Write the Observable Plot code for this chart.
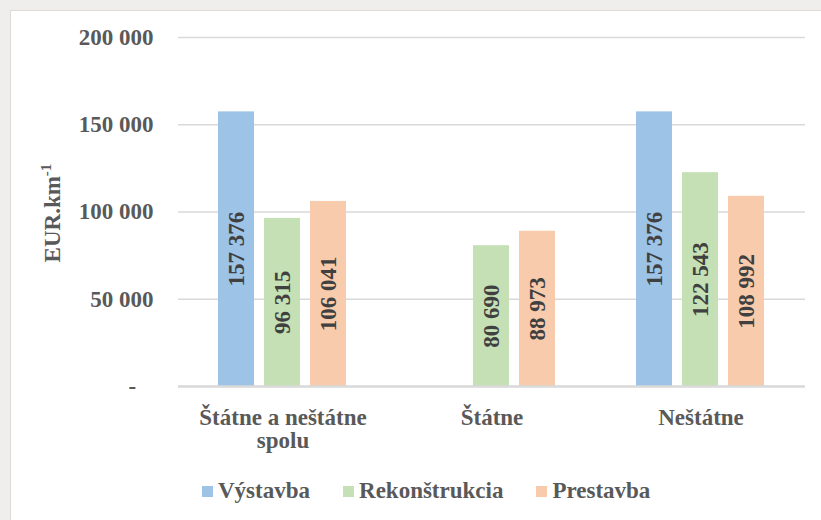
<!DOCTYPE html>
<html>
<head>
<meta charset="utf-8">
<script src="https://cdn.jsdelivr.net/npm/d3@7"></script>
<script src="https://cdn.jsdelivr.net/npm/@observablehq/plot@0.6"></script>
<style>
  html, body { margin: 0; padding: 0; }
  body { width: 821px; height: 520px; background: #efeeec; position: relative; overflow: hidden;
         font-family: 'Liberation Serif', 'Times New Roman', serif; }
  #panel { position: absolute; left: 10px; top: 10px; width: 811px; height: 510px; background: #fff;
           border-top: 1.5px solid #dddcd9; border-left: 1.5px solid #dddcd9; box-sizing: border-box; }
  #chart { position: absolute; left: 0; top: 0; }
  #legend { position: absolute; left: 202px; top: 478px; display: flex; align-items: center;
            font-size: 23px; font-weight: bold; color: #595959; white-space: nowrap; }
  #legend .item { display: flex; align-items: center; margin-right: 33px; }
  #legend .sw { width: 11px; height: 11px; margin-right: 5px; }
</style>
</head>
<body>
<div id="panel"></div>
<div id="chart"></div>
<div id="legend"></div>
<script>
const groups = ["Štátne a neštátne\nspolu", "Štátne", "Neštátne"];
const series = ["Výstavba", "Rekonštrukcia", "Prestavba"];
const vystavba = [157376, null, 157376];
const rekonstrukcia = [96315, 80690, 122543];
const prestavba = [106041, 88973, 108992];
const yTicks = [0, 50000, 100000, 150000, 200000];
const colors = ["#9dc3e6", "#c5e0b4", "#f8cbad"];

const seriesValues = [vystavba, rekonstrukcia, prestavba];
const rows = [];
groups.forEach((g, i) => {
  series.forEach((s, j) => {
    const v = seriesValues[j][i];
    if (v != null) rows.push({group: g, series: s, value: v});
  });
});

const fmt = d => d3.format(",")(d).replace(/,/g, " ");
const fmtTick = d => d === 0 ? "-\u00A0\u00A0\u00A0" : fmt(d);

const FONT = "'Liberation Serif', 'Times New Roman', serif";

const svg = Plot.plot({
  width: 821,
  height: 470,
  marginTop: 37,
  marginBottom: 84,
  marginLeft: 177,
  marginRight: 15,
  style: {fontFamily: FONT, background: "transparent", overflow: "visible"},
  fx: {domain: groups, padding: 0, axis: null},
  x: {domain: series, paddingInner: 0.215, paddingOuter: 0.862, axis: null},
  y: {domain: [0, 200000], axis: null},
  color: {domain: series, range: colors},
  marks: [
    Plot.gridY(yTicks.filter(d => d > 0), {stroke: "#d9d9d9", strokeOpacity: 1, strokeWidth: 1.5}),
    Plot.barY(rows, {fx: "group", x: "series", y: "value", fill: "series"}),
    Plot.ruleY([0], {stroke: "#d9d9d9", strokeWidth: 2.5}),
    Plot.text(rows, {fx: "group", x: "series", y: d => d.value / 2, text: d => fmt(d.value),
      rotate: -90, fontSize: 23, fontWeight: "bold", fill: "#404040"}),
    Plot.axisY({ticks: yTicks, tickFormat: fmtTick, tickSize: 0, tickPadding: 25,
      fontSize: 23, fontWeight: "bold", label: null}),
    Plot.axisFx({anchor: "bottom", tickSize: 0, tickPadding: 22, fontSize: 23, fontWeight: "bold",
      lineHeight: 1, label: null, tickFormat: d => d})
  ]
});

d3.select(svg).selectAll("[aria-label='y-axis tick label'], [aria-label='fx-axis tick label']")
  .attr("fill", "#595959").attr("font-weight", "bold").attr("font-size", 23);

// Y axis title with superscript
const yl = d3.select(svg).append("text")
  .attr("transform", "translate(60,213) rotate(-90)")
  .attr("text-anchor", "middle")
  .attr("font-family", FONT)
  .attr("font-size", 23)
  .attr("font-weight", "bold")
  .attr("fill", "#595959");
yl.append("tspan").text("EUR.km");
yl.append("tspan").attr("font-size", 15).attr("dy", "-0.6em").text("-1");

document.getElementById("chart").appendChild(svg);

const legend = d3.select("#legend");
series.forEach((s, i) => {
  const item = legend.append("div").attr("class", "item");
  item.append("div").attr("class", "sw").style("background", colors[i]);
  item.append("span").text(s);
});
</script>
</body>
</html>
